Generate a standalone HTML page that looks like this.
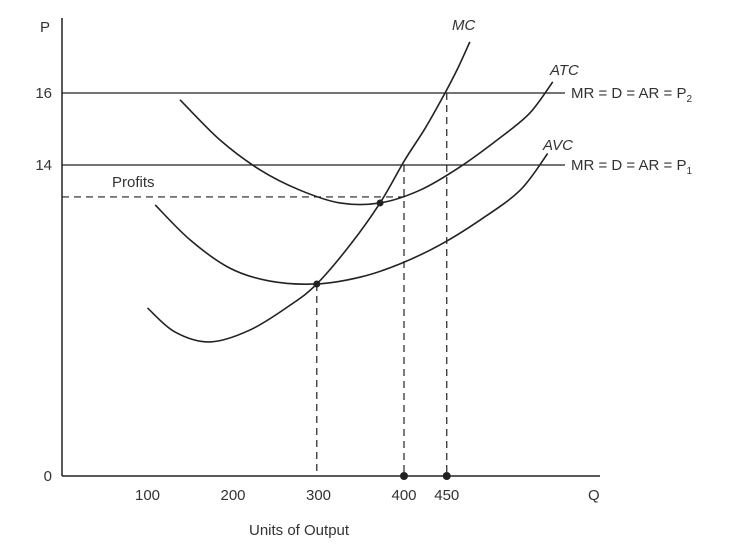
<!DOCTYPE html>
<html><head><meta charset="utf-8">
<style>
html,body{margin:0;padding:0;background:#fff;}
svg{display:block;font-family:"Liberation Sans","DejaVu Sans",sans-serif;}
text{fill:#333;font-size:15px;}
</style></head>
<body>
<svg width="753" height="555" viewBox="0 0 753 555">
<g id="g"></g>
</svg>
<script>
const xTickValues=[100,200,300,400,450];
const yTickValues=[0,14,16];
const mcQ=[100,132,173,220,267,298,337,372,401,425,448,463,477];
const mcP=[7.57,6.49,6.04,6.58,7.70,8.65,10.41,12.30,14.14,15.03,16.0,16.69,17.42];
const atcQ=[138,185,232,278,325,372,419,465,512,547,574];
const atcP=[15.81,14.69,13.78,12.88,12.30,12.30,12.88,13.91,14.75,15.44,16.31];
const avcQ=[109,150,196,243,298,349,395,442,489,536,568];
const avcP=[12.21,10.63,9.37,8.78,8.65,8.96,9.55,10.41,11.53,12.88,14.32];
const priceLevels=[16,14];
const profitPrice=12.57;
const dotQ=[298,372];
const dotP=[8.65,12.30];
const axisDotQ=[400,450];

const NS='http://www.w3.org/2000/svg';
const g=document.getElementById('g');
function X(q){return 62+q*0.855;}
function Y(p){return p>=14?165-(p-14)*36:476-p*22.2;}
function mk(tag,attrs,parent){const e=document.createElementNS(NS,tag);for(const k in attrs)e.setAttribute(k,attrs[k]);(parent||g).appendChild(e);return e;}
function curve(qs,ps){
  const pts=qs.map((q,i)=>[X(q),Y(ps[i])]);
  let d='M'+pts[0][0]+','+pts[0][1];
  for(let i=0;i<pts.length-1;i++){
    const p0=pts[i-1]||pts[i],p1=pts[i],p2=pts[i+1],p3=pts[i+2]||p2;
    d+=' C'+(p1[0]+(p2[0]-p0[0])/6)+','+(p1[1]+(p2[1]-p0[1])/6)+' '+(p2[0]-(p3[0]-p1[0])/6)+','+(p2[1]-(p3[1]-p1[1])/6)+' '+p2[0]+','+p2[1];
  }
  return d;
}
let e;
// axes
e=mk('line',{x1:62,y1:18,x2:62,y2:476,stroke:'#222','stroke-width':1.5});


e=mk('line',{x1:62,y1:476,x2:600,y2:476,stroke:'#222','stroke-width':1.5});


e=mk('text',{x:40,y:32});e.textContent='P';


e=mk('text',{x:588,y:500});e.textContent='Q';


e=mk('text',{x:249,y:535});e.textContent='Units of Output';


xTickValues.forEach(v=>{
  const t=mk('text',{x:X(v),y:500,'text-anchor':'middle'});t.textContent=v;
  
  
});
yTickValues.forEach(v=>{
  const t=mk('text',{x:52,y:Y(v)+5,'text-anchor':'end'});t.textContent=v;
  
  
});
// price lines
priceLevels.forEach((p,i)=>{
  const l=mk('line',{x1:62,y1:Y(p),x2:565,y2:Y(p),stroke:'#222','stroke-width':1.3});
  
  
  const t=mk('text',{x:571,y:Y(p)+5});
  t.innerHTML='MR = D = AR = P<tspan font-size="10" dy="4">'+(2-i)+'</tspan>';
  
  
});
// profits
e=mk('line',{x1:62,y1:Y(profitPrice),x2:X(401),y2:Y(profitPrice),stroke:'#222','stroke-width':1.2,'stroke-dasharray':'7,5'});


e=mk('text',{x:112,y:Y(profitPrice)-10});e.textContent='Profits';


// dashed verticals
[[dotQ[0],dotP[0]],[axisDotQ[0],14],[axisDotQ[1],16]].forEach(([q,p])=>{
  const l=mk('line',{x1:X(q),y1:Y(p),x2:X(q),y2:476,stroke:'#222','stroke-width':1.2,'stroke-dasharray':'7,5'});
  
  
});
// curves
[[mcQ,mcP,'mc-curve'],[atcQ,atcP,'atc-curve'],[avcQ,avcP,'avc-curve']].forEach(([q,p,n])=>{
  const c=mk('path',{d:curve(q,p),fill:'none',stroke:'#222','stroke-width':1.6});
  
  
});
[['MC',452,30],['ATC',550,75],['AVC',543,150]].forEach(([s,x,y])=>{
  const t=mk('text',{x:x,y:y,'font-style':'italic'});t.textContent=s;
  
  
});
// dots
dotQ.forEach((q,i)=>{
  const c=mk('circle',{cx:X(q),cy:Y(dotP[i]),r:3.5,fill:'#222'});
  
  
});
axisDotQ.forEach(q=>{
  const c=mk('circle',{cx:X(q),cy:476,r:4,fill:'#222'});
  
  
});
</script>
</body></html>
